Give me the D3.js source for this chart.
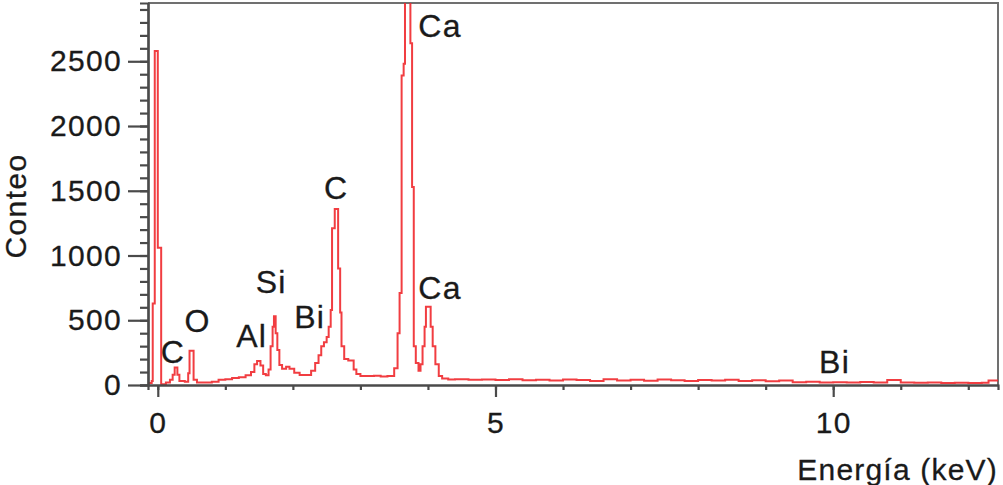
<!DOCTYPE html>
<html>
<head>
<meta charset="utf-8">
<script src="https://cdn.jsdelivr.net/npm/d3@7"></script>
<style>
  html, body { margin: 0; padding: 0; background: #fff; }
  svg { display: block; font-family: "Liberation Sans", Arial, Helvetica, sans-serif; }
</style>
</head>
<body>
<div id="chart"></div>
<script>
// spectrum (energy in keV, counts)
const energy = [
  -0.13, -0.09, -0.075, -0.045, 0.0, 0.05, 0.12, 0.18, 0.22, 0.25, 0.29, 0.32, 0.40,
  0.45, 0.47, 0.53, 0.58, 0.7, 0.8, 0.9, 1.0, 1.1, 1.2, 1.3, 1.38, 1.43, 1.47, 1.52,
  1.56, 1.60, 1.64, 1.67, 1.70, 1.72, 1.745, 1.77, 1.80, 1.84, 1.90, 1.95, 2.02, 2.10,
  2.20, 2.27, 2.33, 2.38, 2.42, 2.46, 2.50, 2.53, 2.56, 2.58, 2.62, 2.67, 2.70, 2.72,
  2.76, 2.82, 2.86, 2.90, 2.94, 3.0, 3.1, 3.2, 3.3, 3.4, 3.5, 3.55, 3.58, 3.61, 3.64,
  3.66, 3.74, 3.765, 3.79, 3.82, 3.86, 3.89, 3.92, 3.95, 3.97, 4.04, 4.07, 4.11, 4.16,
  4.21, 4.3, 4.4, 4.6, 4.8, 5.0, 5.2, 5.4, 5.6, 5.8, 6.0, 6.2, 6.4, 6.6, 6.8, 7.0, 7.2,
  7.4, 7.6, 7.8, 8.0, 8.2, 8.4, 8.6, 8.8, 9.0, 9.2, 9.4, 9.6, 9.8, 10.0, 10.2, 10.4,
  10.6, 10.8, 11.0, 11.2, 11.4, 11.6, 11.8, 12.0, 12.2, 12.3, 12.44
];
const counts = [
  15, 30, 630, 2580, 1060, 5, 20, 40, 80, 135, 80, 30, 25,
  90, 265, 40, 20, 20, 25, 40, 45, 55, 60, 75, 100, 160, 185, 150,
  85, 75, 120, 300, 450, 530, 400, 270, 155, 125, 140, 125, 95, 78,
  78, 110, 170, 230, 300, 330, 370, 450, 580, 1210, 1360, 900, 560, 300,
  200, 190, 190, 120, 85, 70, 70, 72, 65, 70, 130, 400, 710, 2390, 2480,
  3400, 2640, 1530, 300, 170, 110, 160, 300, 450, 605, 450, 300, 160, 70,
  50, 42, 45, 40, 42, 38, 44, 36, 40, 34, 42, 38, 30, 45, 35, 40, 32,
  42, 36, 30, 38, 34, 40, 30, 36, 28, 34, 22, 26, 20, 22, 20, 24,
  20, 38, 20, 18, 20, 16, 18, 15, 18, 35, 35
];

const yMajorTicks = [0, 500, 1000, 1500, 2000, 2500];
const xMajorTicks = [0, 5, 10];

// peak labels, anchored in data units (energy, counts)
const peakNames = ["C", "O", "Al", "Si", "Bi", "C", "Ca", "Ca", "Bi"];
const peakEnergy = [0.225, 0.59, 1.39, 1.68, 2.25, 2.64, 4.18, 4.18, 10.02];
const peakCount = [172, 412, 293, 708, 438, 1436, 2690, 662, 90];

const xTitle = "Energía (keV)";
const yTitle = "Conteo";

const W = 1003, H = 485;
const margin = {top: 3, right: 998, bottom: 385, left: 148};
const ink = "#1a1a1a";

const svg = d3.select("#chart").append("svg")
  .attr("width", W)
  .attr("height", H);

const x = d3.scaleLinear().domain([-0.145, 12.44]).range([margin.left, margin.right]);
const y = d3.scaleLinear().domain([0, 2950]).range([margin.bottom, margin.top]);

// frame (top + right)
svg.append("path")
  .attr("d", `M${margin.left},${margin.top}H${margin.right}V${margin.bottom}`)
  .attr("fill", "none")
  .attr("stroke", "#707070")
  .attr("stroke-width", 2);

svg.append("clipPath").attr("id", "plotClip")
  .append("rect")
  .attr("x", margin.left).attr("y", margin.top)
  .attr("width", margin.right - margin.left)
  .attr("height", margin.bottom - margin.top);

// spectrum
const pts = energy.map((e, i) => [e, counts[i]]);
const line = d3.line()
  .x(d => x(d[0]))
  .y(d => y(d[1]))
  .curve(d3.curveStepAfter);

svg.append("path")
  .datum(pts)
  .attr("clip-path", "url(#plotClip)")
  .attr("d", line)
  .attr("fill", "none")
  .attr("stroke", "#f0282c")
  .attr("stroke-opacity", 0.9)
  .attr("stroke-width", 2);

// text look: a touch heavier than plain Liberation Sans
const inkText = sel => sel
  .attr("fill", ink)
  .attr("stroke", ink)
  .attr("stroke-width", 0.3)
  .style("letter-spacing", "1.3px");

// axes
const styleAxis = g => {
  g.select(".domain").attr("stroke", "#4a4a4a").attr("stroke-width", 2.2);
  g.selectAll(".tick line").attr("stroke", "#4a4a4a").attr("stroke-width", 2.2);
  g.selectAll("text").call(inkText).style("font-size", "30px");
};

svg.append("g")
  .attr("transform", `translate(${margin.left},0)`)
  .call(d3.axisLeft(y).tickValues(d3.range(0, 2950, 100)).tickSize(8).tickFormat(""))
  .call(styleAxis);

svg.append("g")
  .attr("transform", `translate(${margin.left},0)`)
  .call(d3.axisLeft(y).tickValues(yMajorTicks).tickSize(20).tickPadding(6)
    .tickSizeOuter(0).tickFormat(d3.format("d")))
  .call(styleAxis);

svg.append("g")
  .attr("transform", `translate(0,${margin.bottom})`)
  .call(d3.axisBottom(x).tickValues(d3.range(0, 13, 1)).tickSize(5).tickFormat(""))
  .call(styleAxis);

svg.append("g")
  .attr("transform", `translate(0,${margin.bottom})`)
  .call(d3.axisBottom(x).tickValues(xMajorTicks).tickSize(12).tickPadding(15)
    .tickSizeOuter(0).tickFormat(d3.format("d")))
  .call(styleAxis);

// peak labels
svg.append("g").selectAll("text")
  .data(peakNames)
  .join("text")
  .attr("x", (d, i) => x(peakEnergy[i]))
  .attr("y", (d, i) => y(peakCount[i]))
  .attr("text-anchor", "middle")
  .style("font-size", "32px")
  .call(inkText)
  .text(d => d);

// titles
svg.append("text")
  .attr("x", 998)
  .attr("y", 480)
  .attr("text-anchor", "end")
  .style("font-size", "30px")
  .call(inkText)
  .style("letter-spacing", "1.2px")
  .text(xTitle);

svg.append("text")
  .attr("transform", "translate(26,206) rotate(-90)")
  .attr("text-anchor", "middle")
  .style("font-size", "30px")
  .call(inkText)
  .style("letter-spacing", "1.4px")
  .text(yTitle);
</script>
</body>
</html>
